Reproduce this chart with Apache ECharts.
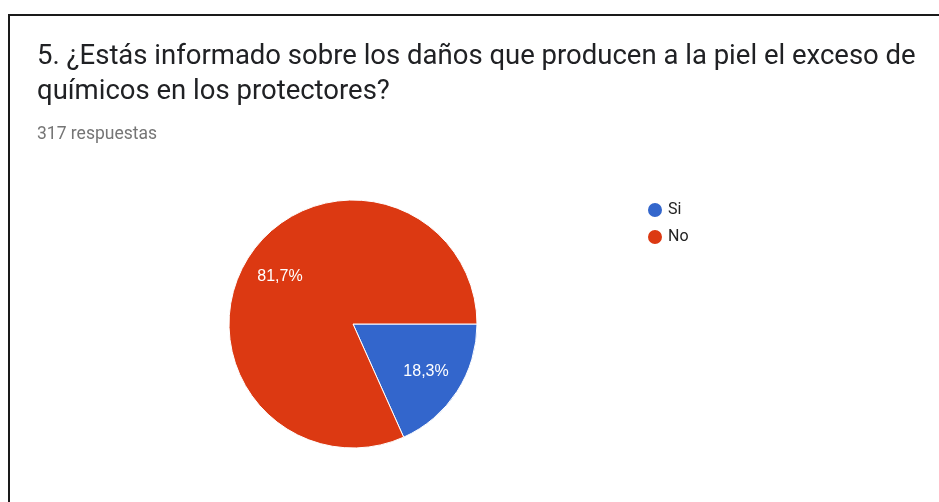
<!DOCTYPE html>
<html>
<head>
<meta charset="utf-8">
<style>
  html, body { margin: 0; padding: 0; background: #ffffff; }
  #chart { width: 939px; height: 502px; }
</style>
<script src="https://cdn.jsdelivr.net/npm/echarts@6/dist/echarts.min.js"></script>
</head>
<body>
<div id="chart"></div>
<script>
// Survey question 5: answers and their shares (percent)
const questionTitle = '5. ¿Estás informado sobre los daños que producen a la piel el exceso de\nquímicos en los protectores?';
const responseCount = '317 respuestas';
const categories = ['Si', 'No'];
const shares = [18.3, 81.7];
const sliceColors = ['#3366CC', '#DC3912'];

const pieData = categories.map((name, i) => ({
  name: name,
  value: shares[i],
  itemStyle: { color: sliceColors[i] }
}));

const fmtPct = p => p.value.toFixed(1).replace('.', ',') + '%';

const chart = echarts.init(document.getElementById('chart'), null, { renderer: 'canvas' });

chart.setOption({
  backgroundColor: '#ffffff',
  animation: false,
  graphic: [{
    type: 'polyline',
    shape: { points: [[9, 520], [9, 15], [960, 15]] },
    style: { stroke: '#1a1a1a', lineWidth: 2, fill: null },
    silent: true
  }],
  title: [{
    text: questionTitle,
    left: 32,
    top: 35,
    textStyle: {
      fontFamily: 'Roboto',
      fontSize: 27.5,
      fontWeight: 'normal',
      color: '#202124',
      lineHeight: 35
    }
  }, {
    text: responseCount,
    left: 32,
    top: 121,
    textStyle: {
      fontFamily: 'Roboto',
      fontSize: 17.5,
      fontWeight: 'normal',
      color: '#757575'
    }
  }],
  legend: {
    orient: 'vertical',
    left: 646,
    top: 201,
    padding: 0,
    icon: 'circle',
    itemWidth: 16,
    itemHeight: 16,
    itemGap: 9,
    data: categories,
    textStyle: {
      fontFamily: 'Roboto',
      fontSize: 16,
      color: '#222222'
    }
  },
  series: [{
    // filled slices
    type: 'pie',
    center: [353, 324],
    radius: [0, 124],
    startAngle: 0,
    clockwise: true,
    label: { show: false },
    labelLine: { show: false },
    itemStyle: { borderColor: '#ffffff', borderWidth: 1 },
    emphasis: { disabled: true },
    data: pieData
  }, {
    // transparent ring that places the percentage labels
    type: 'pie',
    center: [353, 324],
    radius: [44, 124],
    startAngle: 0,
    clockwise: true,
    silent: true,
    itemStyle: { color: 'rgba(0,0,0,0)' },
    emphasis: { disabled: true },
    label: {
      show: true,
      position: 'inside',
      formatter: fmtPct,
      fontFamily: 'Arial, Liberation Sans, sans-serif',
      fontSize: 16,
      color: '#ffffff'
    },
    labelLine: { show: false },
    data: categories.map((name, i) => ({ name: name, value: shares[i] }))
  }]
});
</script>
</body>
</html>
